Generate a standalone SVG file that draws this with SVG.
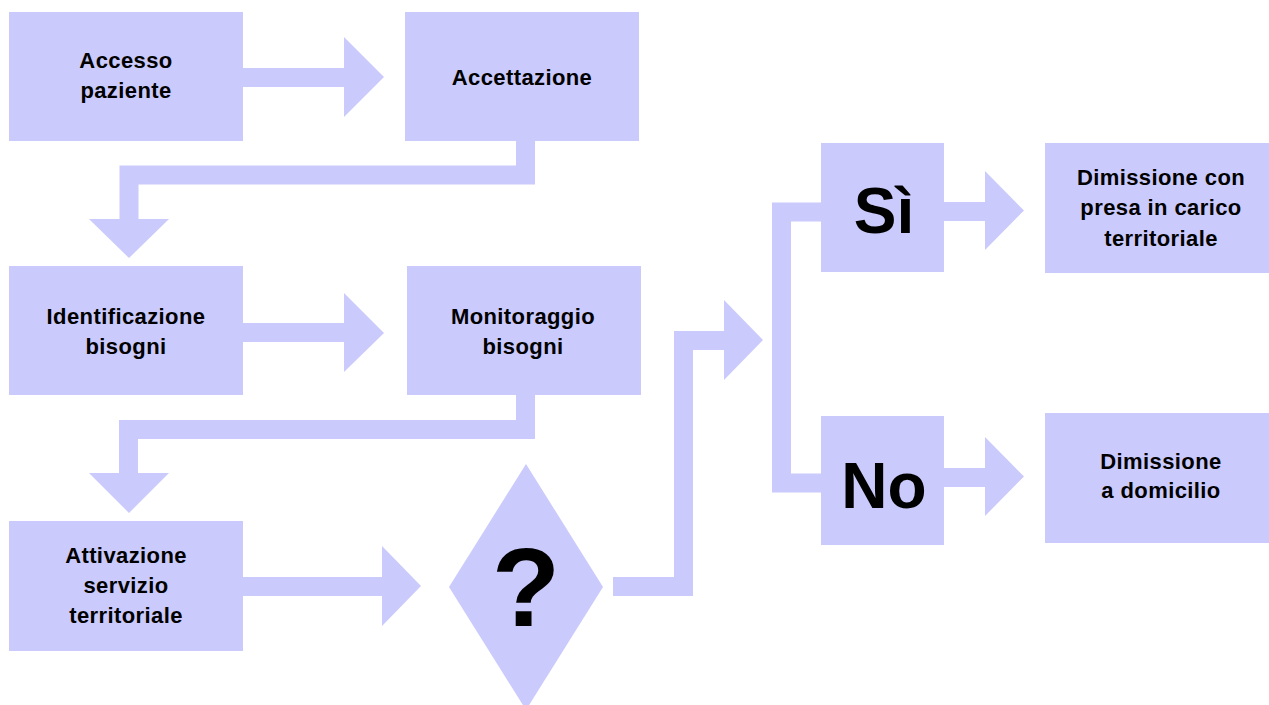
<svg xmlns="http://www.w3.org/2000/svg" width="1269" height="705" viewBox="0 0 1269 705">
  <style>
    .box { fill: #CACAFC; }
    .fill { fill: #CACAFC; }
    .line { fill: none; stroke: #CACAFC; stroke-width: 19; stroke-linejoin: miter; stroke-linecap: butt; }
    .lbl { font-family: "Liberation Sans", Arial, sans-serif; font-weight: bold; font-size: 22px; fill: #000; text-anchor: middle; letter-spacing: 0.4px; }
    .big { font-family: "Liberation Sans", Arial, sans-serif; font-weight: bold; font-size: 64px; fill: #000; text-anchor: middle; }
  </style>
  <rect width="1269" height="705" fill="#FFFFFF"/>

  <!-- connectors -->
  <g id="connectors">
    <!-- Accesso -> Accettazione -->
    <rect class="fill" x="243" y="68" width="102" height="19"/>
    <polygon class="fill" points="344,37 384,77 344,117"/>
    <!-- Accettazione -> Identificazione -->
    <polyline class="line" points="525.5,141 525.5,175 129,175 129,220"/>
    <polygon class="fill" points="89,219 169,219 129,258"/>
    <!-- Identificazione -> Monitoraggio -->
    <rect class="fill" x="243" y="323" width="102" height="19"/>
    <polygon class="fill" points="344,293 384,333 344,372"/>
    <!-- Monitoraggio -> Attivazione -->
    <polyline class="line" points="525.5,395 525.5,429.5 128.5,429.5 128.5,474"/>
    <polygon class="fill" points="89,473 169,473 129,513"/>
    <!-- Attivazione -> decision -->
    <rect class="fill" x="243" y="577" width="140" height="19"/>
    <polygon class="fill" points="382,546 421,586 382,626"/>
    <!-- decision -> branches -->
    <polyline class="line" points="613,586.5 683.5,586.5 683.5,340.5 725,340.5"/>
    <polygon class="fill" points="724,300 763,340 724,380"/>
    <!-- branch bracket -->
    <polyline class="line" points="822,212 781.5,212 781.5,483 822,483"/>
    <!-- Sì -> Dimissione con presa in carico -->
    <rect class="fill" x="943" y="202" width="43" height="19"/>
    <polygon class="fill" points="985,171 1024,210.5 985,250"/>
    <!-- No -> Dimissione a domicilio -->
    <rect class="fill" x="943" y="468" width="43" height="19"/>
    <polygon class="fill" points="985,437 1024,476.5 985,516"/>
  </g>

  <g id="accesso">
    <rect class="box" x="9" y="12" width="234" height="129"/>
    <text class="lbl" x="126" y="68">Accesso</text>
    <text class="lbl" x="126" y="98">paziente</text>
  </g>

  <g id="accettazione">
    <rect class="box" x="405" y="12" width="234" height="129"/>
    <text class="lbl" x="522" y="85">Accettazione</text>
  </g>

  <g id="identificazione">
    <rect class="box" x="9" y="266" width="234" height="129"/>
    <text class="lbl" x="126" y="324">Identificazione</text>
    <text class="lbl" x="126" y="354">bisogni</text>
  </g>

  <g id="monitoraggio">
    <rect class="box" x="407" y="266" width="234" height="129"/>
    <text class="lbl" x="523" y="324">Monitoraggio</text>
    <text class="lbl" x="523" y="354">bisogni</text>
  </g>

  <g id="attivazione">
    <rect class="box" x="9" y="521" width="234" height="130"/>
    <text class="lbl" x="126" y="563">Attivazione</text>
    <text class="lbl" x="126" y="593">servizio</text>
    <text class="lbl" x="126" y="623">territoriale</text>
  </g>

  <g id="decisione">
    <polygon class="box" points="526,464 603,587 526,710 449,587"/>
    <text class="big" x="526" y="626" style="font-size:112px">?</text>
  </g>

  <g id="si">
    <rect class="box" x="821" y="143" width="123" height="129"/>
    <text class="big" x="884" y="233">Sì</text>
  </g>

  <g id="no">
    <rect class="box" x="821" y="416" width="123" height="129"/>
    <text class="big" x="884" y="508">No</text>
  </g>

  <g id="dimissione-territoriale">
    <rect class="box" x="1045" y="143" width="224" height="130"/>
    <text class="lbl" x="1161" y="185">Dimissione con</text>
    <text class="lbl" x="1161" y="215">presa in carico</text>
    <text class="lbl" x="1161" y="246">territoriale</text>
  </g>

  <g id="dimissione-domicilio">
    <rect class="box" x="1045" y="413" width="224" height="130"/>
    <text class="lbl" x="1161" y="469">Dimissione</text>
    <text class="lbl" x="1161" y="498">a domicilio</text>
  </g>
</svg>
